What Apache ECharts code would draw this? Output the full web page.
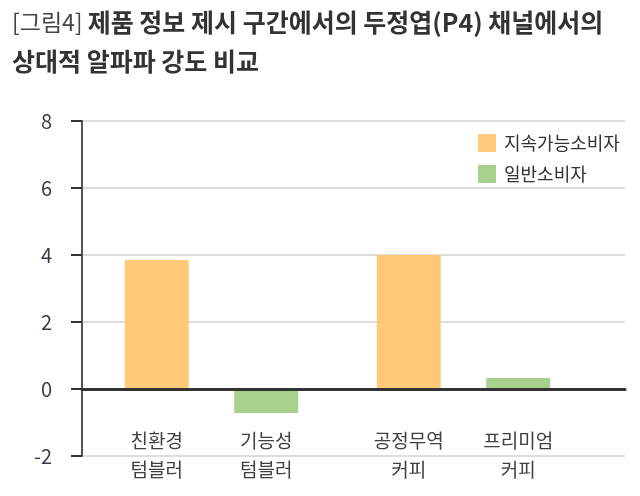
<!DOCTYPE html>
<html><head><meta charset="utf-8">
<script src="https://cdn.jsdelivr.net/npm/echarts@6/dist/echarts.min.js"></script>
<style>html,body{margin:0;padding:0;background:#fff}#c{width:640px;height:496px}</style>
</head><body><div id="c"></div>
<script>
const groups = ['텀블러', '커피'];
const seriesNames = ['지속가능소비자', '일반소비자'];
const sustainableValues = [3.85, 4.0];
const generalValues = [-0.72, 0.33];
const sustainableLabels = ['친환경\n텀블러', '공정무역\n커피'];
const generalLabels = ['기능성\n텀블러', '프리미엄\n커피'];
const yTicks = [-2, 0, 2, 4, 6, 8];

const FONT = 'Noto Sans CJK KR';
const chart = echarts.init(document.getElementById('c'));

function barData(values, labels) {
  return values.map((v, i) => ({
    value: v,
    label: { position: v >= 0 ? 'bottom' : 'insideTop', formatter: labels[i] }
  }));
}
const labelStyle = {
  show: true, distance: 37, color: '#404040', fontSize: 19, lineHeight: 29,
  fontFamily: FONT, align: 'center', verticalAlign: 'top'
};

chart.setOption({
  backgroundColor: '#fff',
  title: {
    left: 12, top: 3, padding: 0,
    text: '{a|[그림4]} {b|제품 정보 제시 구간에서의 두정엽(P4) 채널에서의}\n{b|상대적 알파파 강도 비교}',
    textStyle: {
      rich: {
        a: { fontFamily: FONT, fontSize: 23, fontWeight: 'normal', color: '#444', lineHeight: 39 },
        b: { fontFamily: FONT, fontSize: 25, fontWeight: 'bold', color: '#333', lineHeight: 39 }
      }
    }
  },
  legend: {
    orient: 'vertical', left: 473, top: 129,
    itemWidth: 18, itemHeight: 18, itemGap: 13, icon: 'rect',
    textStyle: { fontFamily: FONT, fontSize: 18, color: '#333', padding: [0, 0, 0, 3] },
    data: seriesNames
  },
  grid: [
    { left: 82, right: 15, top: 121, bottom: 40 },
    { left: 85.5, width: 504, top: 121, bottom: 40 }
  ],
  xAxis: [
    { gridIndex: 0, type: 'category', data: [''], z: 5,
      axisLine: { show: true, onZero: true, lineStyle: { color: '#333', width: 3 } },
      axisTick: { show: false }, axisLabel: { show: false }, splitLine: { show: false } },
    { gridIndex: 1, type: 'category', data: groups,
      axisLine: { show: false }, axisTick: { show: false }, axisLabel: { show: false } }
  ],
  yAxis: [
    { gridIndex: 0, type: 'value', min: yTicks[0], max: yTicks[yTicks.length - 1], interval: 2,
      axisLine: { show: true, lineStyle: { color: '#555', width: 2 } },
      axisTick: { show: true, length: 11, lineStyle: { color: '#333', width: 2 } },
      axisLabel: { margin: 30, fontSize: 20, color: '#3a3a4a', fontFamily: FONT },
      splitLine: { show: true, lineStyle: { color: '#d2d2d2', width: 1.5 } } },
    { gridIndex: 1, type: 'value', min: yTicks[0], max: yTicks[yTicks.length - 1], interval: 2,
      axisLine: { show: false }, axisTick: { show: false }, axisLabel: { show: false },
      splitLine: { show: false } }
  ],
  series: [
    { name: seriesNames[0], type: 'bar', xAxisIndex: 1, yAxisIndex: 1,
      barWidth: 64, barGap: '71%', itemStyle: { color: '#FFC978' },
      label: labelStyle, data: barData(sustainableValues, sustainableLabels) },
    { name: seriesNames[1], type: 'bar', xAxisIndex: 1, yAxisIndex: 1,
      barWidth: 64, barGap: '71%', itemStyle: { color: '#A9D18E' },
      label: labelStyle, data: barData(generalValues, generalLabels) }
  ]
});
</script></body></html>
